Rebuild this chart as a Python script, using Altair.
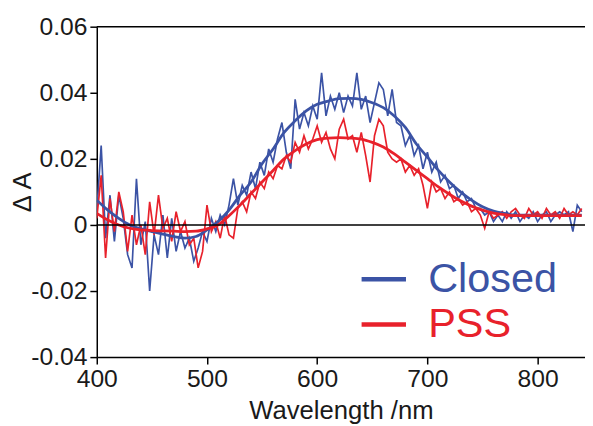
import altair as alt
import pandas as pd

# ---------------- data ----------------
raw_wavelength = list(range(400, 844, 4))

closed_raw = [
    0.004, 0.024, -0.004, 0.009, -0.005, 0.009, 0.002, -0.009, -0.013, 0.014,
    -0.006, 0.001, -0.020, -0.003, -0.009, 0.003, -0.010, 0.002, -0.008, -0.002,
    -0.007, -0.004, -0.011, -0.007, -0.002, -0.005, 0.002, -0.002, 0.003, 0.000,
    0.006, 0.014, 0.006, 0.012, 0.009, 0.016, 0.011, 0.019, 0.015, 0.023,
    0.019, 0.026, 0.031, 0.022, 0.017, 0.038, 0.029, 0.034, 0.030, 0.036,
    0.032, 0.046, 0.033, 0.039, 0.035, 0.040, 0.034, 0.039, 0.036, 0.046,
    0.035, 0.039, 0.031, 0.037, 0.043, 0.041, 0.033, 0.041, 0.031, 0.030,
    0.024, 0.027, 0.021, 0.024, 0.017, 0.022, 0.016, 0.019, 0.013, 0.015,
    0.011, 0.012, 0.008, 0.010, 0.007, 0.008, 0.005, 0.005, 0.003, 0.004,
    0.001, 0.003, 0.001, 0.004, 0.002, 0.004, 0.001, 0.003, 0.002, 0.004,
    0.001, 0.003, 0.004, 0.001, 0.003, 0.004, 0.003, 0.004, -0.002, 0.006,
    0.004,
]

pss_raw = [
    0.002, 0.015, -0.010, 0.008, -0.002, 0.010, 0.004, -0.008, 0.003, -0.006,
    0.000, -0.009, 0.007, -0.003, 0.009, -0.001, 0.002, -0.005, 0.004, -0.002,
    0.001, -0.006, -0.004, -0.013, -0.008, 0.006, -0.002, 0.001, -0.004, 0.003,
    -0.003, -0.004, 0.005, 0.007, 0.004, 0.010, 0.008, 0.013, 0.011, 0.016,
    0.014, 0.018, 0.017, 0.021, 0.019, 0.025, 0.022, 0.027, 0.023, 0.026,
    0.030, 0.025, 0.028, 0.023, 0.020, 0.029, 0.032, 0.026, 0.027, 0.022,
    0.028, 0.021, 0.013, 0.027, 0.032, 0.030, 0.022, 0.020, 0.019, 0.020,
    0.016, 0.018, 0.015, 0.017, 0.012, 0.005, 0.013, 0.010, 0.011, 0.008,
    0.010, 0.007, 0.008, 0.006, 0.007, 0.004, 0.005, 0.003, -0.001, 0.004,
    0.002, 0.003, 0.004, 0.002, 0.004, 0.005, 0.003, 0.002, 0.005, 0.003,
    0.004, 0.002, 0.005, 0.003, 0.004, 0.002, 0.005, 0.003, 0.004, 0.003,
    0.005,
]

fit_wavelength = list(range(400, 850, 10))

closed_fit = [
    0.0075, 0.0045, 0.0020, 0.0000, -0.0012, -0.0020, -0.0028, -0.0035, -0.0040, -0.0035,
    -0.0015, 0.0010, 0.0045, 0.0090, 0.0130, 0.0185, 0.0230, 0.0280, 0.0315, 0.0345,
    0.0365, 0.0375, 0.0382, 0.0383, 0.0380, 0.0370, 0.0355, 0.0330, 0.0295, 0.0245,
    0.0205, 0.0165, 0.0130, 0.0100, 0.0075, 0.0055, 0.0042, 0.0035, 0.0030, 0.0030,
    0.0030, 0.0030, 0.0030, 0.0030, 0.0030,
]

pss_fit = [
    0.0035, 0.0015, 0.0000, -0.0010, -0.0015, -0.0017, -0.0018, -0.0019, -0.0020, -0.0019,
    -0.0012, 0.0000, 0.0028, 0.0060, 0.0095, 0.0130, 0.0165, 0.0200, 0.0225, 0.0245,
    0.0258, 0.0263, 0.0264, 0.0263, 0.0260, 0.0250, 0.0236, 0.0215, 0.0190, 0.0165,
    0.0140, 0.0115, 0.0093, 0.0073, 0.0057, 0.0045, 0.0036, 0.0031, 0.0028, 0.0028,
    0.0028, 0.0028, 0.0028, 0.0028, 0.0028,
]

series_names = ["Closed", "PSS"]
series_colors = ["#3b53a5", "#e8212b"]
x_ticks = [400, 500, 600, 700, 800]
y_ticks = [-0.04, -0.02, 0, 0.02, 0.04, 0.06]
ref_lines = [0, 0.06]

assert len(closed_raw) == len(raw_wavelength) == len(pss_raw)
assert len(closed_fit) == len(fit_wavelength) == len(pss_fit)

raw_df = pd.concat([
    pd.DataFrame({"wl": raw_wavelength, "dA": closed_raw, "series": "Closed"}),
    pd.DataFrame({"wl": raw_wavelength, "dA": pss_raw, "series": "PSS"}),
])
fit_df = pd.concat([
    pd.DataFrame({"wl": fit_wavelength, "dA": closed_fit, "series": "Closed"}),
    pd.DataFrame({"wl": fit_wavelength, "dA": pss_fit, "series": "PSS"}),
])
ref_df = pd.DataFrame({"y": ref_lines})

FONT = "Liberation Sans"

x_scale = alt.Scale(domain=[400, 843], nice=False, zero=False)
y_scale = alt.Scale(domain=[-0.04, 0.06], nice=False, zero=False)
color_scale = alt.Scale(domain=series_names, range=series_colors)

x_enc = alt.X(
    "wl:Q", scale=x_scale,
    axis=alt.Axis(values=x_ticks, title="Wavelength /nm", grid=False,
                  labelFontSize=25, titleFontSize=26, titlePadding=6,
                  labelPadding=3, tickSize=7, format="d", labelFlush=False),
)
y_enc = alt.Y(
    "dA:Q", scale=y_scale,
    axis=alt.Axis(values=y_ticks, title="Δ A", grid=False,
                  labelFontSize=25, titleFontSize=26, titlePadding=-5,
                  labelPadding=3, tickSize=7, labelFlush=False,
                  labelExpr="datum.value == 0 ? '0' : (datum.value < 0 ? '-' : '') + format(abs(datum.value), '.2f')"),
)

raw = alt.Chart(raw_df).mark_line(strokeWidth=1.7, clip=True).encode(
    x=x_enc, y=y_enc,
    color=alt.Color(
        "series:N", scale=color_scale,
        legend=alt.Legend(
            title=None, orient="none", legendX=266, legendY=231,
            symbolType="stroke", symbolSize=2025, symbolStrokeWidth=4.5,
            labelFontSize=42, labelFont=FONT, labelOffset=20,
            rowPadding=0, labelLimit=400,
            labelColor=alt.ExprRef("datum.label == 'Closed' ? '#3b53a5' : '#e8212b'"),
        ),
    ),
    order=alt.Order("wl:Q"),
)

fit = alt.Chart(fit_df).mark_line(strokeWidth=2.8, interpolate="monotone", clip=True).encode(
    x=alt.X("wl:Q", scale=x_scale),
    y=alt.Y("dA:Q", scale=y_scale),
    color=alt.Color("series:N", scale=color_scale, legend=None),
)

rules = alt.Chart(ref_df).mark_rule(color="black", strokeWidth=1.5).encode(
    y=alt.Y("y:Q", scale=y_scale),
)

chart = alt.layer(raw, fit, rules).properties(
    width=495, height=335,
    autosize=alt.AutoSizeParams(type="none"),
    padding={"left": 90, "top": 16, "right": 0, "bottom": 75},
).configure_view(stroke=None).configure_axis(
    domainColor="black", domainWidth=1.5, tickColor="black", tickWidth=1.5,
    labelColor="#1a1a1a", titleColor="#1a1a1a", labelFont=FONT, titleFont=FONT,
    titleFontWeight="normal",
)

chart.save("out.html", embed_options={"renderer": "svg", "actions": False})
